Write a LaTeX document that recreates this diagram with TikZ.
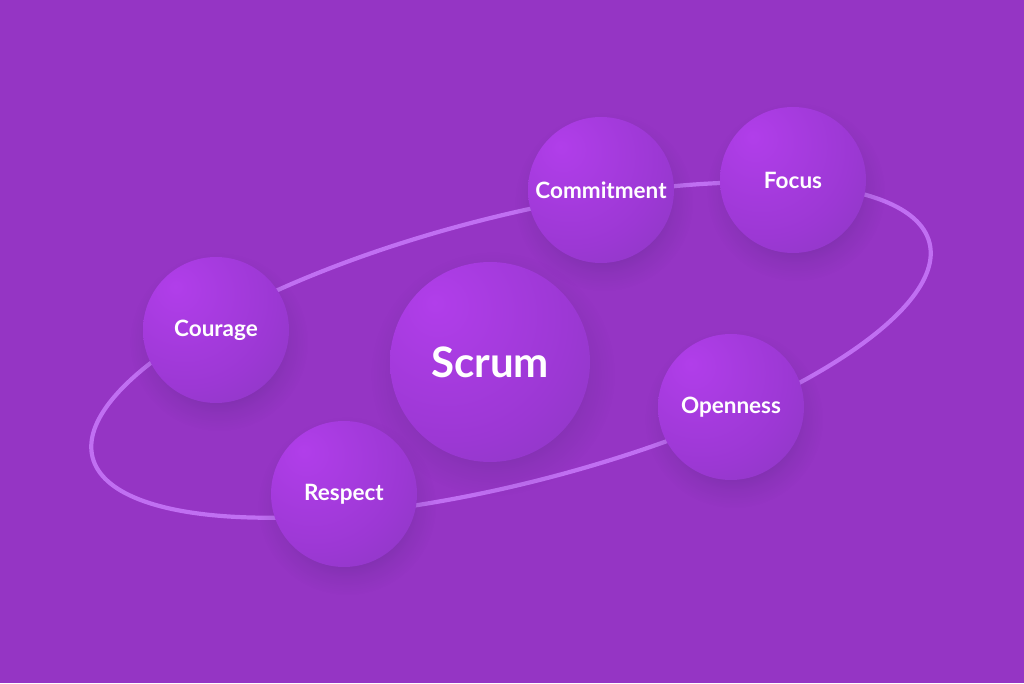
\documentclass[tikz,border=0pt]{standalone}
\usepackage{fontspec}
\setmainfont{Lato}
\usetikzlibrary{fadings}
\definecolor{bg}{HTML}{9535C4}
\definecolor{ringc}{HTML}{C06FF2}
\definecolor{sphhi}{HTML}{B13EEA}
\definecolor{sphmid}{HTML}{9C38D4}
\definecolor{sphdk}{HTML}{7B3AAF}
\definecolor{shad}{HTML}{5E2A8C}
\pgfdeclareradialshading{sph}{\pgfpoint{-14bp}{15bp}}{color(0bp)=(sphhi); color(30bp)=(sphmid); color(66bp)=(sphdk); color(100bp)=(sphdk)}
\pgfdeclareradialshading{softshsh}{\pgfpointorigin}{color(0bp)=(pgftransparent!0); color(16bp)=(pgftransparent!0); color(20bp)=(pgftransparent!55); color(25bp)=(pgftransparent!100); color(50bp)=(pgftransparent!100)}
\pgfdeclarefading{softsh}{\pgfuseshading{softshsh}}
\tikzset{
  sphere/.style={circle, minimum size=#1, inner sep=0pt, shading=sph, text=white, font=\bfseries\fontsize{22.5}{26}\selectfont},
  ring/.style={draw=ringc, line width=4.2pt}
}
\begin{document}
\begin{tikzpicture}[x=1pt,y=1pt]
\fill[bg] (0,0) rectangle (1024,683);
\useasboundingbox (0,0) rectangle (1024,683);
% ring
\draw[ring, rotate around={14.4:(511,333)}] (511,333) ellipse [x radius=432, y radius=133];
% shadows
\foreach \cx/\cy/\r in {490/321/100, 601/493/73, 793/503/73, 216/353/73, 731/276/73, 344/189/73}{
  \fill[shad, opacity=0.35, path fading=softsh] (\cx+3,\cy-12) circle (\r*1.22);
}
% spheres
\node[sphere=200pt, font=\bfseries\fontsize{42}{48}\selectfont] (scrum) at (490,321) {Scrum};
\node[sphere=146pt] (commit) at (601,493) {Commitment};
\node[sphere=146pt] (focus) at (793,503) {Focus};
\node[sphere=146pt] (courage) at (216,353) {Courage};
\node[sphere=146pt] (open) at (731,276) {Openness};
\node[sphere=146pt] (respect) at (344,189) {Respect};
\end{tikzpicture}
\end{document}
